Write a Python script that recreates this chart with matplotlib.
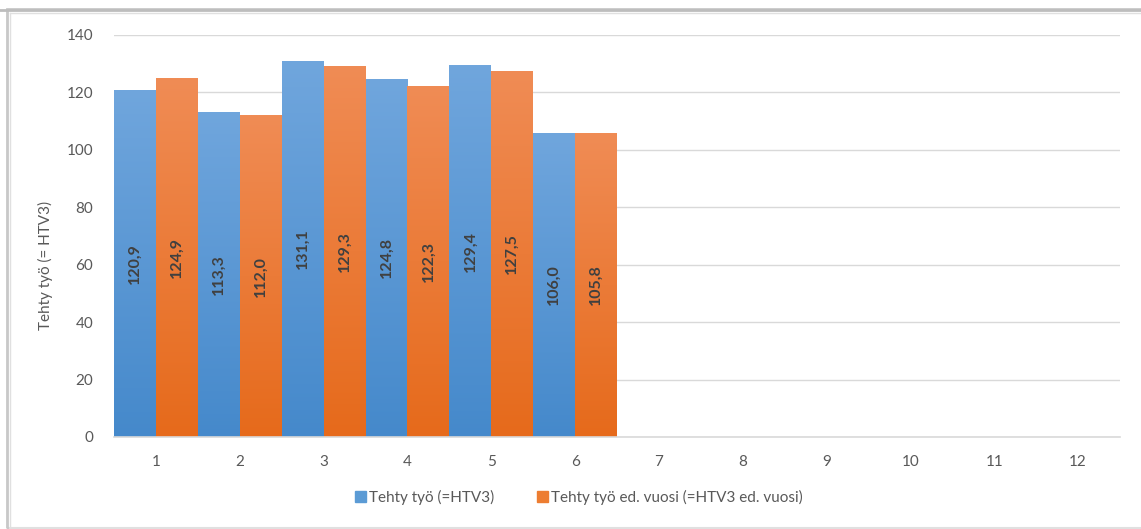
import matplotlib
matplotlib.use("Agg")
import matplotlib.pyplot as plt
import numpy as np
from matplotlib.colors import LinearSegmentedColormap
from matplotlib.patches import Rectangle

categories = [1, 2, 3, 4, 5, 6, 7, 8, 9, 10, 11, 12]
series_now = [120.9, 113.3, 131.1, 124.8, 129.4, 106.0]
series_prev = [124.9, 112.0, 129.3, 122.3, 127.5, 105.8]
name_now = "Tehty työ (=HTV3)"
name_prev = "Tehty työ ed. vuosi (=HTV3 ed. vuosi)"
ylabel = "Tehty työ (= HTV3)"
yticks = [0, 20, 40, 60, 80, 100, 120, 140]

plt.rcParams['font.family'] = ['Lato', 'DejaVu Sans']
txt = '#595959'

fig = plt.figure(figsize=(11.41, 5.29), dpi=100)
ax = fig.add_axes([114/1141, 1-437/529, (1120-114)/1141, (437-35)/529])

# frame lines
fig.patches.append(Rectangle((7/1141, 1/529), 1.2, 519/529, transform=fig.transFigure,
                             fill=False, edgecolor='#c8c8c8', lw=2))
fig.lines.append(plt.Line2D([0, 1], [1-9.5/529, 1-9.5/529], transform=fig.transFigure, color='#bdbdbd', lw=2))
fig.lines.append(plt.Line2D([10/1141, 1], [1-12.5/529, 1-12.5/529], transform=fig.transFigure, color='#e0e0e0', lw=1))
fig.lines.append(plt.Line2D([10/1141, 10/1141], [1/529, 1-12.5/529], transform=fig.transFigure, color='#e0e0e0', lw=1))
fig.lines.append(plt.Line2D([10/1141, 1], [1.5/529, 1.5/529], transform=fig.transFigure, color='#e0e0e0', lw=1.5))

x = np.arange(1, len(series_now) + 1)
w = 0.5
b1 = ax.bar(x - w/2, series_now, width=w, color='#5b9bd5', zorder=3)
b2 = ax.bar(x + w/2, series_prev, width=w, color='#ed7d31', zorder=3)

cm_blue = LinearSegmentedColormap.from_list('b', ['#4589cb', '#70a6dd'])
cm_orng = LinearSegmentedColormap.from_list('o', ['#e66a1b', '#f08c55'])
grad = np.linspace(0, 1, 256).reshape(-1, 1)
for bars, cm in ((b1, cm_blue), (b2, cm_orng)):
    for r in bars:
        x0, y0 = r.get_x(), r.get_y()
        im = ax.imshow(grad, cmap=cm, origin='lower', aspect='auto',
                       extent=[x0, x0 + r.get_width(), y0, y0 + r.get_height()], zorder=3.5)
        im.set_clip_path(r)

for bars, vals in ((b1, series_now), (b2, series_prev)):
    for r, v in zip(bars, vals):
        ax.text(r.get_x() + r.get_width()/2, v/2, f"{v:.1f}".replace('.', ','),
                rotation=90, ha='center', va='center', fontsize=11.5,
                fontweight='bold', color='#404040', zorder=5)

ax.set_xlim(0.5, 12.5)
ax.set_ylim(0, 140)
ax.set_xticks(categories)
ax.set_xticklabels([str(c) for c in categories])
ax.set_yticks(yticks)
ax.tick_params(axis='both', length=0, labelsize=11, colors=txt)
ax.tick_params(axis='x', pad=13)
ax.tick_params(axis='y', pad=15)
ax.grid(axis='y', color='#d9d9d9', lw=1, zorder=0)
for s in ['top', 'right', 'left']:
    ax.spines[s].set_visible(False)
ax.spines['bottom'].set_color('#d9d9d9')
ax.spines['bottom'].set_linewidth(1.2)
ax.spines['bottom'].set_zorder(4)

fig.text(45/1141, 1-265/529, ylabel, rotation=90, ha='center', va='center',
         fontsize=11, color=txt)

h1 = Rectangle((0, 0), 1, 1, color='#5b9bd5')
h2 = Rectangle((0, 0), 1, 1, color='#ed7d31')
fig.legend([h1, h2], [name_now, name_prev], loc='center', bbox_to_anchor=(579/1141, 1-497/529),
           ncol=2, frameon=False, fontsize=11, handlelength=0.7, handleheight=0.7,
           handletextpad=0.2, columnspacing=2.8, labelcolor=txt)

fig.savefig('out.png', dpi=100)
